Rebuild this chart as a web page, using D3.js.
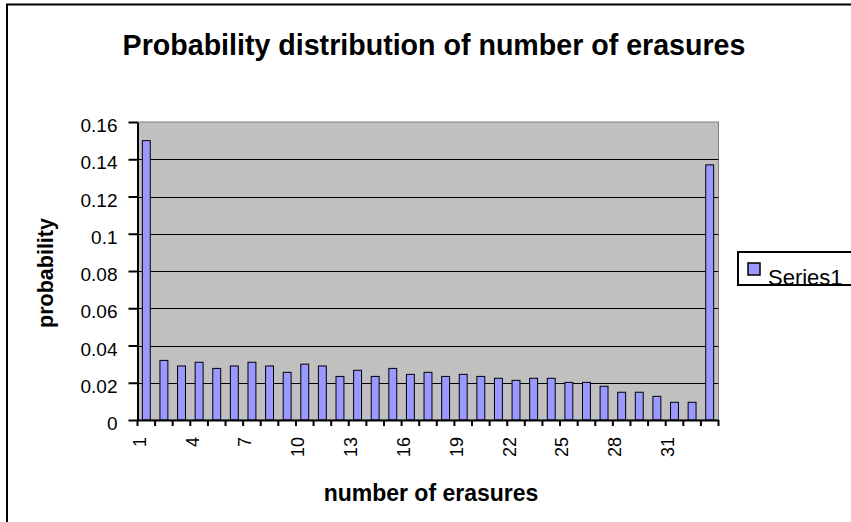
<!DOCTYPE html>
<html><head><meta charset="utf-8">
<script src="https://cdn.jsdelivr.net/npm/d3@7"></script>
<style>
html,body{margin:0;padding:0;background:#fff;overflow:hidden;}
text{font-family:"Liberation Sans", Arial, sans-serif;}
</style></head>
<body>
<svg id="chart" width="851" height="522"></svg>
<script>
const categories = d3.range(1, 34);
const probability = [0.150, 0.032, 0.029, 0.031, 0.0277, 0.029, 0.031, 0.029, 0.0256, 0.030,
  0.029, 0.0234, 0.0267, 0.0234, 0.0277, 0.0245, 0.0256, 0.0234, 0.0245, 0.0234,
  0.0224, 0.0213, 0.0224, 0.0224, 0.0202, 0.0202, 0.0181, 0.0149, 0.0149, 0.0127,
  0.0095, 0.0095, 0.137];
const yTicks = [0, 0.02, 0.04, 0.06, 0.08, 0.1, 0.12, 0.14, 0.16];
const xLabelCats = [1, 4, 7, 10, 13, 16, 19, 22, 25, 28, 31];
const seriesName = "Series1";

const svg = d3.select("#chart");
const plot = {left: 137.5, top: 122, right: 718.5, bottom: 420};

// outer border
svg.append("rect").attr("x", 7).attr("y", 4.5).attr("width", 900).attr("height", 600)
  .attr("fill", "#fff").attr("stroke", "#000").attr("stroke-width", 2);

const x = d3.scaleBand().domain(categories).range([plot.left, plot.right]).paddingInner(0.55).paddingOuter(0.275);
const xb = d3.scaleBand().domain(categories).range([plot.left, plot.right]);
const y = d3.scaleLinear().domain([0, 0.16]).range([plot.bottom, plot.top]);

// plot area
svg.append("rect").attr("x", plot.left).attr("y", plot.top)
  .attr("width", plot.right - plot.left).attr("height", plot.bottom - plot.top)
  .attr("fill", "#C0C0C0").attr("stroke", "#808080").attr("stroke-width", 1);

// gridlines
svg.append("g").selectAll("line").data(yTicks.filter(t => t > 0 && t < 0.16)).join("line")
  .attr("x1", plot.left).attr("x2", plot.right)
  .attr("y1", d => Math.round(y(d)) + 0.5).attr("y2", d => Math.round(y(d)) + 0.5)
  .attr("stroke", "#000").attr("stroke-width", 1);

// bars
svg.append("g").selectAll("rect").data(probability).join("rect")
  .attr("x", (d, i) => x(categories[i]))
  .attr("y", d => y(d))
  .attr("width", x.bandwidth())
  .attr("height", d => plot.bottom - y(d))
  .attr("fill", "#9999FF").attr("stroke", "#000").attr("stroke-width", 1);

// y axis
const yAxis = d3.axisLeft(y).tickValues(yTicks).tickFormat(d => String(+d.toFixed(2))).tickSize(9).tickSizeOuter(0);
const gy = svg.append("g").attr("transform", `translate(${plot.left},0)`).call(yAxis);
gy.select(".domain").attr("stroke", "#000").attr("stroke-width", 2);
gy.selectAll(".tick line").attr("stroke", "#000").attr("stroke-width", 2);
gy.selectAll(".tick text").attr("font-size", 19).attr("fill", "#000").attr("x", -20).attr("dy", "0.5em")
  .style("font-family", "'Liberation Sans', Arial, sans-serif");

// x axis with ticks between categories
const xAxis = d3.axisBottom(xb).tickValues([]).tickSizeOuter(0);
const gx = svg.append("g").attr("transform", `translate(0,${plot.bottom})`).call(xAxis);
gx.select(".domain").attr("stroke", "#000").attr("stroke-width", 2);
gx.append("g").selectAll("line").data(categories.concat([34])).join("line")
  .attr("x1", d => d <= 33 ? xb(d) : plot.right).attr("x2", d => d <= 33 ? xb(d) : plot.right)
  .attr("y1", 0).attr("y2", 6).attr("stroke", "#000").attr("stroke-width", 2);
gx.append("g").selectAll("text").data(xLabelCats).join("text")
  .attr("transform", d => `translate(${xb(d) + xb.bandwidth() / 2 - 0.5},17) rotate(-90)`)
  .attr("text-anchor", "end").attr("font-size", 18).attr("fill", "#000")
  .text(d => d);

// title
svg.append("text").attr("x", 434).attr("y", 55).attr("text-anchor", "middle")
  .attr("font-size", 28.6).attr("font-weight", "bold").text("Probability distribution of number of erasures");
// axis titles
svg.append("text").attr("x", 431).attr("y", 501).attr("text-anchor", "middle")
  .attr("font-size", 23).attr("font-weight", "bold").text("number of erasures");
svg.append("text").attr("transform", "translate(53,273) rotate(-90)").attr("text-anchor", "middle")
  .attr("font-size", 21.5).attr("font-weight", "bold").text("probability");

// legend
const lg = svg.append("g");
lg.append("rect").attr("x", 738).attr("y", 252).attr("width", 150).attr("height", 33)
  .attr("fill", "#fff").attr("stroke", "#000").attr("stroke-width", 2);
lg.append("rect").attr("x", 748).attr("y", 263).attr("width", 12).attr("height", 12)
  .attr("fill", "#9999FF").attr("stroke", "#000").attr("stroke-width", 1.5);
lg.append("text").attr("x", 768).attr("y", 285).attr("font-size", 22).text(seriesName);
</script>
</body></html>
